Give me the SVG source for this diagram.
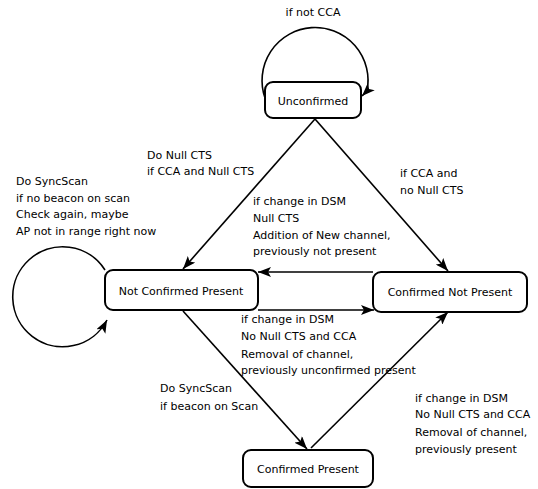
<svg xmlns="http://www.w3.org/2000/svg" width="538" height="489" viewBox="0 0 538 489">
  <style>
    .state rect { fill: #ffffff; stroke: #000000; stroke-width: 2; }
    .state text { font-family: "DejaVu Sans", sans-serif; font-size: 11px; fill: #000000; text-anchor: middle; }
    .edge { fill: none; stroke: #000000; stroke-width: 1.6; marker-end: url(#arrow); }
    .label { font-family: "DejaVu Sans", sans-serif; font-size: 11px; fill: #000000; }
  </style>
  <defs>
    <marker id="arrow" markerUnits="userSpaceOnUse" markerWidth="14" markerHeight="10" refX="13" refY="5" orient="auto">
      <path d="M0,0 L13,5 L0,10 L3,5 z" fill="#000000"/>
    </marker>
  </defs>
  <rect width="538" height="489" fill="#ffffff"/>

  <!-- transitions -->
  <g id="connectors">
    <path class="edge" d="M265 98 A53 53 0 1 1 367 91 L362 96"/>
    <path class="edge" d="M105 270 A50 50 0 1 0 107 320"/>
    <path class="edge" d="M315 119 L183 269"/>
    <path class="edge" d="M315 119 L448 271"/>
    <path class="edge" d="M373 272 L258 272"/>
    <path class="edge" d="M258 310 L374 310"/>
    <path class="edge" d="M183 311 L307 449"/>
    <path class="edge" d="M311 448 L448 312"/>
  </g>

  <!-- transition labels -->
  <g id="labels">
    <text class="label" x="313" y="16" text-anchor="middle">if not CCA</text>
    <text class="label" x="147" y="159">Do Null CTS</text>
    <text class="label" x="147" y="175">if CCA and Null CTS</text>
    <text class="label" x="16" y="185">Do SyncScan</text>
    <text class="label" x="16" y="202">if no beacon on scan</text>
    <text class="label" x="16" y="218">Check again, maybe</text>
    <text class="label" x="16" y="235">AP not in range right now</text>
    <text class="label" x="253" y="205">if change in DSM</text>
    <text class="label" x="253" y="222">Null CTS</text>
    <text class="label" x="253" y="239">Addition of New channel,</text>
    <text class="label" x="253" y="255">previously not present</text>
    <text class="label" x="400" y="177">if CCA and</text>
    <text class="label" x="400" y="194">no Null CTS</text>
    <text class="label" x="241" y="323">if change in DSM</text>
    <text class="label" x="241" y="340">No Null CTS and CCA</text>
    <text class="label" x="241" y="358">Removal of channel,</text>
    <text class="label" x="241" y="374">previously unconfirmed present</text>
    <text class="label" x="160" y="392">Do SyncScan</text>
    <text class="label" x="160" y="410">if beacon on Scan</text>
    <text class="label" x="415" y="402">if change in DSM</text>
    <text class="label" x="415" y="418">No Null CTS and CCA</text>
    <text class="label" x="415" y="436">Removal of channel,</text>
    <text class="label" x="415" y="453">previously present</text>
  </g>

  <!-- states -->
  <g id="unconfirmed" class="state">
    <rect x="265" y="82" width="96" height="36" rx="8"/>
    <text x="313" y="105">Unconfirmed</text>
  </g>
  <g id="not-confirmed-present" class="state">
    <rect x="105" y="270" width="153" height="40" rx="8"/>
    <text x="181" y="295">Not Confirmed Present</text>
  </g>
  <g id="confirmed-not-present" class="state">
    <rect x="373" y="272" width="154" height="40" rx="8"/>
    <text x="450" y="296">Confirmed Not Present</text>
  </g>
  <g id="confirmed-present" class="state">
    <rect x="243" y="450" width="130" height="37" rx="8"/>
    <text x="308" y="473">Confirmed Present</text>
  </g>
</svg>
